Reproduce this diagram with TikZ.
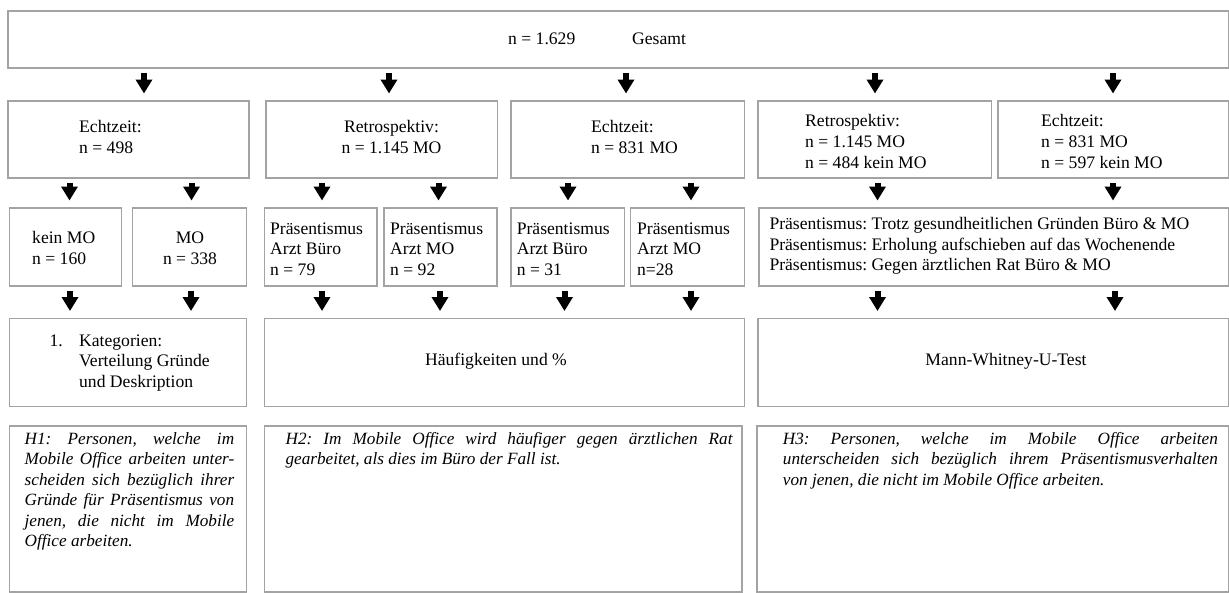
\documentclass[tikz,border=0pt]{standalone}
\usepackage{fontspec}
\setmainfont{Liberation Serif}
\usetikzlibrary{arrows.meta}
\definecolor{boxgray}{HTML}{A3A3A3}
\frenchspacing
\begin{document}
\begin{tikzpicture}[x=1pt,y=-1pt,
  box/.style={draw=boxgray, line width=1.6pt, fill=white, inner sep=0pt, anchor=north west},
  txt/.style={inner sep=0pt, font=\fontsize{17.6}{20.6}\selectfont},
  itxt/.style={inner sep=0pt, font=\fontsize{17.2}{20.5}\selectfont\itshape, align=left, anchor=north west},
  arr/.style={line width=6pt, -{Triangle[length=14pt,width=16pt]}, shorten <=4.5pt, shorten >=6.5pt}
]
\fill[white] (0,0) rectangle (1229,592);
\useasboundingbox (0,0) rectangle (1229,592);

% boxes
\node[box, minimum width=1220.5pt, minimum height=57pt] (top) at (7,10) {};
\node[box, minimum width=241pt, minimum height=77pt] (A) at (7,100) {};
\node[box, minimum width=231.5pt, minimum height=77pt] (B) at (265,100) {};
\node[box, minimum width=233.6pt, minimum height=77pt] (C) at (510,100) {};
\node[box, minimum width=233.2pt, minimum height=77pt] (D) at (757.4,100) {};
\node[box, minimum width=230.1pt, minimum height=77pt] (E) at (997.4,100) {};

\node[box, minimum width=111.8pt, minimum height=78pt] (k) at (8.7,207) {};
\node[box, minimum width=114.2pt, minimum height=78pt] (m) at (131.6,207) {};
\node[box, minimum width=112.4pt, minimum height=78pt] (p1) at (263.6,207) {};
\node[box, minimum width=113pt, minimum height=78pt] (p2) at (383.4,207) {};
\node[box, minimum width=113.9pt, minimum height=78pt] (p3) at (509.9,207) {};
\node[box, minimum width=113.8pt, minimum height=78pt] (p4) at (629.8,207) {};
\node[box, minimum width=469.5pt, minimum height=78pt] (big) at (758,207) {};

\node[box, minimum width=237.1pt, minimum height=88pt] (K) at (8.7,317.5) {};
\node[box, minimum width=480pt, minimum height=88pt] (H) at (263.6,317.5) {};
\node[box, minimum width=470.1pt, minimum height=88pt] (M) at (757.4,317.5) {};

\node[box, minimum width=237.1pt, minimum height=166pt] (H1) at (8.7,425) {};
\node[box, minimum width=477.6pt, minimum height=166pt] (H2) at (263.6,425) {};
\node[box, minimum width=471.3pt, minimum height=166pt] (H3) at (756.2,425) {};

% texts
\node[txt, anchor=west] (tn) at (508,39) {n = 1.629};
\node[txt, anchor=west] (tg) at (632,39) {Gesamt};

\node[txt, anchor=west, align=left] (tA) at (79,137) {Echtzeit:\\n = 498};
\node[txt, align=center] (tB) at (391.5,137) {Retrospektiv:\\n = 1.145 MO};
\node[txt, anchor=west, align=left] (tC) at (591,137) {Echtzeit:\\n = 831 MO};
\node[txt, anchor=west, align=left] (tD) at (805,141.5) {Retrospektiv:\\n = 1.145 MO\\n = 484 kein MO};
\node[txt, anchor=west, align=left] (tE) at (1041,141.5) {Echtzeit:\\n = 831 MO\\n = 597 kein MO};

\node[txt, anchor=west, align=left] (tk) at (32,248) {kein MO\\n = 160};
\node[txt, align=center] (tm) at (190,248) {MO\\n = 338};
\node[txt, anchor=west, align=left] (tp1) at (270,249) {Präsentismus\\Arzt Büro\\n = 79};
\node[txt, anchor=west, align=left] (tp2) at (390,249) {Präsentismus\\Arzt MO\\n = 92};
\node[txt, anchor=west, align=left] (tp3) at (516.6,249) {Präsentismus\\Arzt Büro\\n = 31};
\node[txt, anchor=west, align=left] (tp4) at (636.9,249) {Präsentismus\\Arzt MO\\n=28};
\node[txt, anchor=west, align=left] (tbig) at (769.3,246) {Präsentismus: Trotz gesundheitlichen Gründen Büro \& MO\\Präsentismus: Erholung aufschieben auf das Wochenende\\Präsentismus: Gegen ärztlichen Rat Büro \& MO};

\node[txt, anchor=west, align=left] (tK) at (49.4,363) {\makebox[29.6pt][l]{1.}Kategorien:\\\hspace*{29.6pt}Verteilung Gründe\\\hspace*{29.6pt}und Deskription};
\node[txt] (tH) at (496,361) {Häufigkeiten und \%};
\node[txt] (tM) at (1006,361) {Mann-Whitney-U-Test};

\node[itxt] (tH1) at (24.5,432) {\makebox[209.5pt][s]{H1: Personen, welche im}\\
\makebox[209.5pt][s]{Mobile Office arbeiten unter-}\\
\makebox[209.5pt][s]{scheiden sich bezüglich ihrer}\\
\makebox[209.5pt][s]{Gründe für Präsentismus von}\\
\makebox[209.5pt][s]{jenen, die nicht im Mobile}\\
Office arbeiten.};
\node[itxt] (tH2) at (285.4,432) {\makebox[447pt][s]{H2: Im Mobile Office wird häufiger gegen ärztlichen Rat}\\
gearbeitet, als dies im Büro der Fall ist.};
\node[itxt] (tH3) at (782.7,432) {\makebox[435pt][s]{H3: Personen, welche im Mobile Office arbeiten}\\
\makebox[435pt][s]{unterscheiden sich bezüglich ihrem Präsentismusverhalten}\\
von jenen, die nicht im Mobile Office arbeiten.};

% arrow x positions
\coordinate (r1a) at (144,0);
\coordinate (r1b) at (389,0);
\coordinate (r1c) at (626,0);
\coordinate (r1d) at (875,0);
\coordinate (r1e) at (1113,0);
\coordinate (r2a) at (69.5,0);
\coordinate (r2b) at (191.5,0);
\coordinate (r2c) at (322,0);
\coordinate (r2d) at (438.5,0);
\coordinate (r2e) at (568,0);
\coordinate (r2f) at (691,0);
\coordinate (r2g) at (877.5,0);
\coordinate (r2h) at (1113,0);
\coordinate (r3a) at (70,0);
\coordinate (r3b) at (191,0);
\coordinate (r3c) at (322,0);
\coordinate (r3d) at (440,0);
\coordinate (r3e) at (564.5,0);
\coordinate (r3f) at (691,0);
\coordinate (r3g) at (877.5,0);
\coordinate (r3h) at (1115,0);

% row 1 arrows
\draw[arr] (top.south -| r1a) -- (A.north -| r1a);
\draw[arr] (top.south -| r1b) -- (B.north -| r1b);
\draw[arr] (top.south -| r1c) -- (C.north -| r1c);
\draw[arr] (top.south -| r1d) -- (D.north -| r1d);
\draw[arr] (top.south -| r1e) -- (E.north -| r1e);
% row 2 arrows
\draw[arr] (A.south -| r2a) -- (k.north -| r2a);
\draw[arr] (A.south -| r2b) -- (m.north -| r2b);
\draw[arr] (B.south -| r2c) -- (p1.north -| r2c);
\draw[arr] (B.south -| r2d) -- (p2.north -| r2d);
\draw[arr] (C.south -| r2e) -- (p3.north -| r2e);
\draw[arr] (C.south -| r2f) -- (p4.north -| r2f);
\draw[arr] (D.south -| r2g) -- (big.north -| r2g);
\draw[arr] (E.south -| r2h) -- (big.north -| r2h);
% row 3 arrows
\draw[arr] (k.south -| r3a) -- (K.north -| r3a);
\draw[arr] (m.south -| r3b) -- (K.north -| r3b);
\draw[arr] (p1.south -| r3c) -- (H.north -| r3c);
\draw[arr] (p2.south -| r3d) -- (H.north -| r3d);
\draw[arr] (p3.south -| r3e) -- (H.north -| r3e);
\draw[arr] (p4.south -| r3f) -- (H.north -| r3f);
\draw[arr] (big.south -| r3g) -- (M.north -| r3g);
\draw[arr] (big.south -| r3h) -- (M.north -| r3h);
\end{tikzpicture}
\end{document}
